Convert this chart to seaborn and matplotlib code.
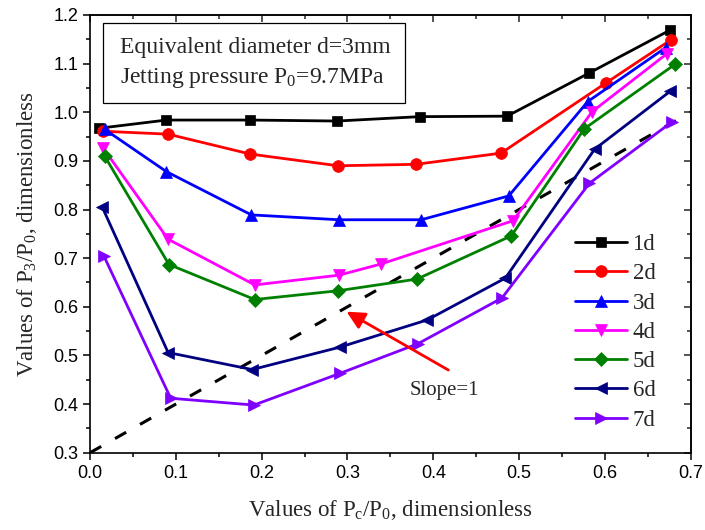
import matplotlib
matplotlib.use("Agg")
import matplotlib.pyplot as plt
from matplotlib.patches import Rectangle
from matplotlib.ticker import MultipleLocator
import seaborn as sns

# Measured pressure ratios P3/P0 against Pc/P0 for nozzle distances 1d..7d
x_1d = [0.010, 0.089, 0.187, 0.288, 0.384, 0.486, 0.582, 0.676]
y_1d = [0.967, 0.984, 0.984, 0.982, 0.991, 0.992, 1.081, 1.169]

x_2d = [0.015, 0.091, 0.187, 0.289, 0.380, 0.479, 0.601, 0.677]
y_2d = [0.961, 0.955, 0.914, 0.890, 0.893, 0.916, 1.060, 1.149]

x_3d = [0.017, 0.089, 0.188, 0.290, 0.386, 0.488, 0.580, 0.671]
y_3d = [0.965, 0.878, 0.789, 0.779, 0.779, 0.828, 1.022, 1.133]

x_4d = [0.015, 0.091, 0.192, 0.290, 0.339, 0.493, 0.585, 0.672]
y_4d = [0.927, 0.739, 0.645, 0.665, 0.688, 0.777, 1.001, 1.120]

x_5d = [0.017, 0.092, 0.192, 0.289, 0.381, 0.491, 0.576, 0.682]
y_5d = [0.910, 0.687, 0.615, 0.633, 0.657, 0.746, 0.966, 1.099]

x_6d = [0.014, 0.091, 0.189, 0.291, 0.393, 0.484, 0.588, 0.676]
y_6d = [0.806, 0.506, 0.471, 0.517, 0.573, 0.659, 0.924, 1.043]

x_7d = [0.016, 0.094, 0.191, 0.291, 0.382, 0.480, 0.582, 0.678]
y_7d = [0.705, 0.412, 0.398, 0.463, 0.524, 0.618, 0.854, 0.980]

series_names = ["1d", "2d", "3d", "4d", "5d", "6d", "7d"]
series_x = [x_1d, x_2d, x_3d, x_4d, x_5d, x_6d, x_7d]
series_y = [y_1d, y_2d, y_3d, y_4d, y_5d, y_6d, y_7d]
series_colors = ["#000000", "#FF0000", "#0000FF", "#FF00FF",
                 "#008000", "#000080", "#8000FF"]
series_markers = ["s", "o", "^", "v", "D", "<", ">"]
marker_sizes = [7.5, 8.5, 9, 9, 7, 9, 9]

# Reference line with slope 1
ref_x = [0.0, 0.7]
ref_y = [0.3, 1.0]

sns.set_theme(style="ticks")
plt.rcParams["font.family"] = ["Liberation Serif", "DejaVu Serif"]
plt.rcParams["mathtext.fontset"] = "custom"
plt.rcParams["mathtext.rm"] = "Liberation Serif"
plt.rcParams["mathtext.it"] = "Liberation Serif:italic"
plt.rcParams["mathtext.bf"] = "Liberation Serif:bold"

fig = plt.figure(figsize=(7.05, 5.30), dpi=100)
ax = fig.add_axes([0.1277, 0.1458, 0.8520, 0.8259])

sns.lineplot(x=ref_x, y=ref_y, ax=ax, color="black", linewidth=2.2,
             dashes=False, zorder=1).lines[-1].set_dashes((4.2, 5.2))

for name, xs, ys, c, m, ms in zip(series_names, series_x, series_y,
                                  series_colors, series_markers, marker_sizes):
    sns.lineplot(x=xs, y=ys, ax=ax, color=c, marker=m, markersize=ms,
                 linewidth=2.0, label=name, sort=False, estimator=None,
                 markeredgecolor=c, markeredgewidth=0.5, zorder=3)

ax.set_xlim(0.0, 0.7)
ax.set_ylim(0.3, 1.2)
ax.xaxis.set_major_locator(MultipleLocator(0.1))
ax.xaxis.set_minor_locator(MultipleLocator(0.05))
ax.yaxis.set_major_locator(MultipleLocator(0.1))
ax.yaxis.set_minor_locator(MultipleLocator(0.05))
ax.set_xticks([0.0, 0.1, 0.2, 0.3, 0.4, 0.5, 0.6, 0.7])
ax.set_xticklabels(["0.0", "0.1", "0.2", "0.3", "0.4", "0.5", "0.6", "0.7"])
ax.set_yticks([0.3, 0.4, 0.5, 0.6, 0.7, 0.8, 0.9, 1.0, 1.1, 1.2])
ax.set_yticklabels(["0.3", "0.4", "0.5", "0.6", "0.7", "0.8", "0.9",
                    "1.0", "1.1", "1.2"])

for lab in ax.get_xticklabels() + ax.get_yticklabels():
    lab.set_fontfamily("Liberation Sans")
    lab.set_fontsize(13)

ax.tick_params(which="both", direction="out", width=1.1, colors="black")
ax.tick_params(which="major", length=5)
ax.tick_params(which="minor", length=3)
for sp in ax.spines.values():
    sp.set_visible(True)
    sp.set_linewidth(1.2)
    sp.set_color("black")

# Inward ticks on the top and right edges
top = ax.secondary_xaxis("top")
top.xaxis.set_major_locator(MultipleLocator(0.1))
top.xaxis.set_minor_locator(MultipleLocator(0.05))
top.tick_params(which="both", direction="in", labeltop=False, width=1.1)
top.tick_params(which="major", length=5)
top.tick_params(which="minor", length=3)
top.spines["top"].set_linewidth(1.2)
right = ax.secondary_yaxis("right")
right.yaxis.set_major_locator(MultipleLocator(0.1))
right.yaxis.set_minor_locator(MultipleLocator(0.05))
right.tick_params(which="both", direction="in", labelright=False, width=1.1)
right.tick_params(which="major", length=5)
right.tick_params(which="minor", length=3)
right.spines["right"].set_linewidth(1.2)

ax.set_xlabel(r"Values of P$_\mathrm{c}$/P$_\mathrm{0}$, dimensionless",
              fontsize=16.5, labelpad=12)
ax.set_ylabel(r"Values of P$_\mathrm{3}$/P$_\mathrm{0}$, dimensionless",
              fontsize=16.5, labelpad=10)

# Info box
ax.add_patch(Rectangle((0.0211, 0.7996), 0.5033, 0.1828,
                       transform=ax.transAxes, facecolor="white",
                       edgecolor="black", linewidth=0.9, zorder=4))
ax.text(0.050, 0.9125, "Equivalent diameter d=3mm", transform=ax.transAxes,
        fontsize=17, va="baseline", ha="left", zorder=5)
ax.text(0.050, 0.8453, r"Jetting pressure P$_\mathrm{0}$=9.7MPa",
        transform=ax.transAxes, fontsize=17, va="baseline", ha="left",
        zorder=5)

# Slope annotation
ax.annotate("", xy=(0.299, 0.590), xytext=(0.4176, 0.470),
            arrowprops=dict(arrowstyle="-|>,head_length=0.9,head_width=0.45",
                            color="red", lw=2.0, shrinkA=0, shrinkB=0),
            zorder=5)
ax.text(0.413, 0.427, "Slope=1", fontsize=15, ha="center", va="center")

leg = ax.legend(loc="upper left", bbox_to_anchor=(0.8078, 0.4997),
                frameon=False, fontsize=16.5, handlelength=2.25,
                handletextpad=0.25, labelspacing=0.36, borderpad=0,
                borderaxespad=0)

fig.savefig("out.png", dpi=100)
